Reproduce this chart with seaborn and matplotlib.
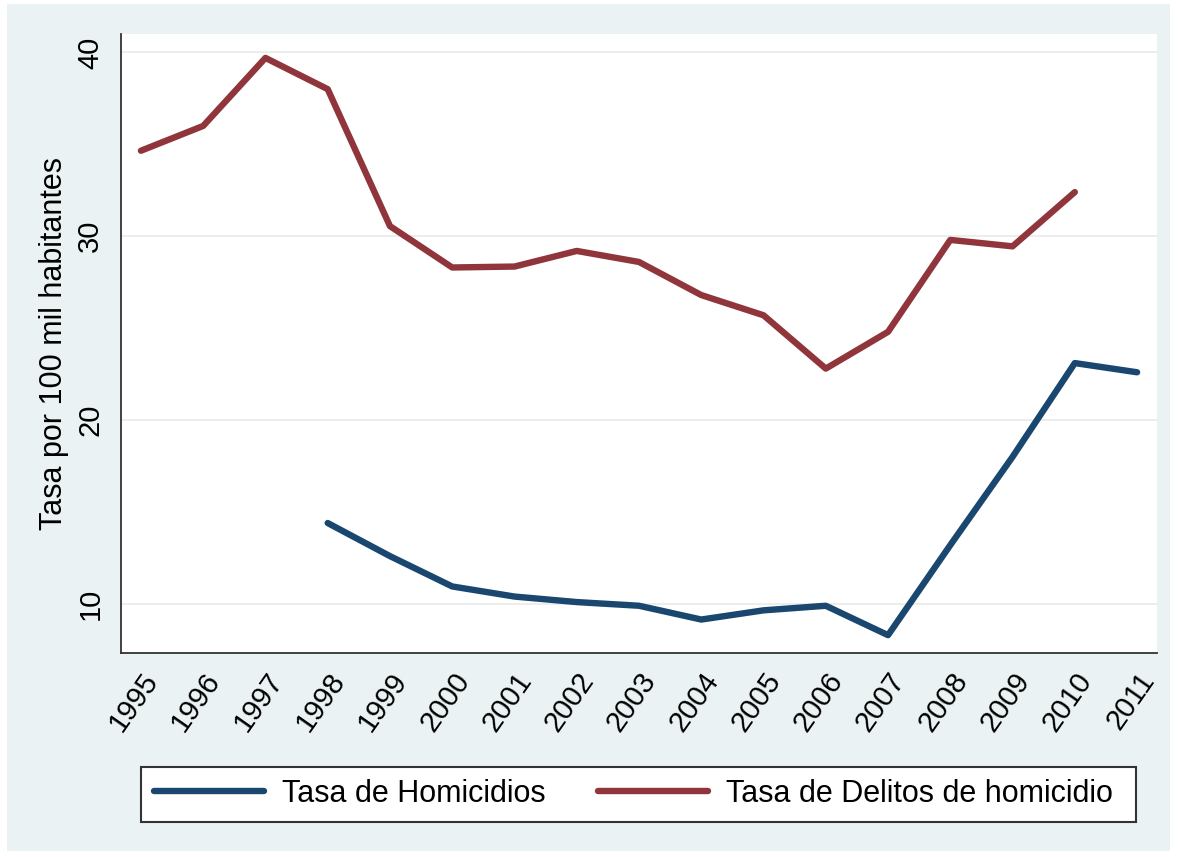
import numpy as np
import pandas as pd
import seaborn as sns
import matplotlib.pyplot as plt
from matplotlib.patches import Rectangle

# datos
years = list(range(1995, 2012))
homicidios = [np.nan, np.nan, np.nan, 14.4, 12.6, 10.95, 10.4, 10.1, 9.9, 9.15,
              9.65, 9.9, 8.3, 13.2, 18.0, 23.1, 22.6]
delitos = [34.65, 36.0, 39.7, 38.0, 30.55, 28.3, 28.35, 29.2, 28.6, 26.8,
           25.7, 22.8, 24.8, 29.8, 29.45, 32.4, np.nan]
series = ['Tasa de Homicidios', 'Tasa de Delitos de homicidio']
colores = ['#1A476F', '#90353B']

df = pd.DataFrame({'year': years, series[0]: homicidios, series[1]: delitos})
df = df.melt(id_vars='year', var_name='serie', value_name='tasa').dropna()

sns.set_style('white')
plt.rcParams['font.family'] = ['Liberation Sans', 'DejaVu Sans']
plt.rcParams['text.color'] = 'black'
plt.rcParams['xtick.color'] = 'black'
plt.rcParams['ytick.color'] = 'black'
plt.rcParams['axes.labelcolor'] = 'black'

W, H = 1178, 857
fig = plt.figure(figsize=(W / 100, H / 100), dpi=100)
fig.patch.set_facecolor('white')
# fondo gris azulado estilo Stata
fig.patches.append(Rectangle((7 / W, 6 / H), 1163 / W, 847 / H, transform=fig.transFigure,
                             facecolor='#EAF2F3', edgecolor='none', zorder=-10))

ax = fig.add_axes([121 / W, 1 - 653 / H, (1157 - 121) / W, (653 - 34) / H])
ax.set_zorder(2)
ax.set_facecolor('white')

sns.lineplot(data=df, x='year', y='tasa', hue='serie', hue_order=series,
             palette=colores, linewidth=4.6, ax=ax, legend=False)

ax.set_xlim(1994.68, 2011.32)
ax.set_ylim(7.33, 41.0)
ax.set_xticks(years)
ax.set_xticklabels([str(y) for y in years], rotation=55, ha='right', va='top',
                   rotation_mode='anchor', fontsize=21)
ax.set_yticks([10, 20, 30, 40])
ax.set_yticklabels(['10', '20', '30', '40'], rotation=90, va='center', fontsize=21)
ax.tick_params(axis='both', direction='out', width=1.3, color='#333333')
ax.tick_params(axis='x', length=7.5, pad=3)
ax.tick_params(axis='y', length=9, pad=3)
ax.grid(axis='y', color='#EAEAEA', linewidth=1.2)
ax.set_axisbelow(True)
for s in ['top', 'right']:
    ax.spines[s].set_visible(False)
for s in ['left', 'bottom']:
    ax.spines[s].set_color('#333333')
    ax.spines[s].set_linewidth(1.3)

ax.set_xlabel('')
ax.set_ylabel('Tasa por 100 mil habitantes', fontsize=22, labelpad=5)

# leyenda
fig.patches.append(Rectangle((141 / W, 1 - 822 / H), 995 / W, 55 / H, transform=fig.transFigure,
                             facecolor='white', edgecolor='#333333', linewidth=1.5, zorder=1))
handles = [plt.Line2D([], [], color=c, linewidth=4.6) for c in colores]
leg = fig.legend(handles, series, loc='center left', bbox_to_anchor=(154 / W, 1 - 794 / H),
                 ncol=2, frameon=False, fontsize=22, handlelength=3.6, handletextpad=0.6,
                 columnspacing=1.7, borderpad=0, borderaxespad=0)
leg.set_zorder(3)

fig.savefig('out.png', dpi=100)
